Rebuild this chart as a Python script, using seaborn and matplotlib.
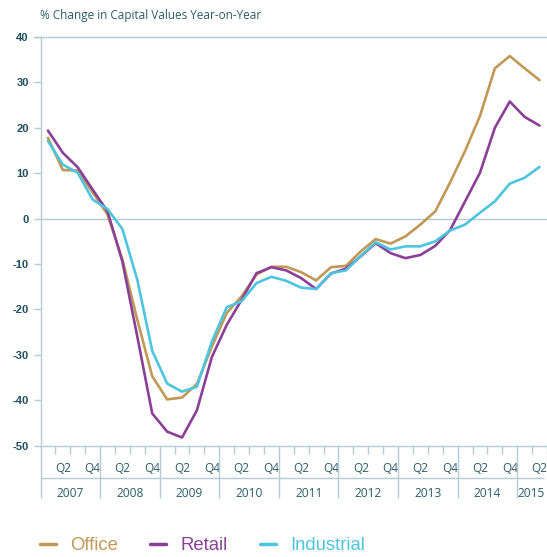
import numpy as np
import pandas as pd
import matplotlib
matplotlib.use("Agg")
import matplotlib.pyplot as plt
import seaborn as sns

years = ["2007", "2008", "2009", "2010", "2011", "2012", "2013", "2014", "2015"]
quarter_labels = ["Q1", "Q2", "Q3", "Q4"]

office = [17.8, 10.7, 10.6, 5.8, 0.9, -9.0, -22.3, -34.7, -39.8, -39.4, -36.4, -28.2,
          -20.8, -17.1, -12.3, -10.6, -10.6, -11.8, -13.6, -10.7, -10.4, -7.2, -4.5, -5.5,
          -3.9, -1.3, 1.6, 8.0, 14.9, 22.6, 33.1, 35.8, 33.1, 30.5]
retail = [19.4, 14.5, 11.3, 6.4, 1.6, -9.5, -26.0, -42.9, -46.9, -48.2, -42.2, -30.5,
          -23.4, -17.9, -12.0, -10.7, -11.4, -13.1, -15.5, -12.1, -11.0, -8.3, -5.4, -7.6,
          -8.7, -8.0, -6.0, -2.5, 3.8, 10.1, 20.0, 25.8, 22.4, 20.5]
industrial = [17.1, 11.9, 10.1, 4.2, 2.1, -2.3, -13.5, -29.1, -36.3, -38.1, -37.0, -27.1,
              -19.5, -18.2, -14.2, -12.8, -13.7, -15.2, -15.5, -12.0, -11.4, -8.2, -5.2, -6.8,
              -6.1, -6.1, -5.0, -2.6, -1.3, 1.3, 3.8, 7.7, 9.0, 11.4]

series = {"Office": office, "Retail": retail, "Industrial": industrial}
colors = {"Office": "#c19855", "Retail": "#8b3f97", "Industrial": "#4dc5de"}

n = len(office)
qidx = np.arange(n)
rows = []
for name, vals in series.items():
    for i, v in zip(qidx, vals):
        rows.append({"q": i, "value": v, "sector": name})
df = pd.DataFrame(rows)

sns.set_style("white")
plt.rcParams["font.family"] = ["Open Sans", "DejaVu Sans"]

grid_col = "#b4cbd2"
text_col = "#2b5c68"
tick_col = "#1e4f5b"

fig = plt.figure(figsize=(5.47, 5.57), dpi=100)
ax = fig.add_axes([40.5 / 547, 1 - 445.7 / 557, 1 - 40.5 / 547, (445.7 - 37) / 557])

sns.lineplot(data=df, x="q", y="value", hue="sector", palette=colors,
             linewidth=1.9, ax=ax, legend=True)

ax.set_xlim(-0.5, 33.33)
ax.set_ylim(-50, 40)

for s in ["top", "right"]:
    ax.spines[s].set_visible(False)
ax.spines["left"].set_color(grid_col)
ax.spines["bottom"].set_color(grid_col)
ax.spines["left"].set_linewidth(1)
ax.spines["bottom"].set_linewidth(1)

ax.axhline(0, color=grid_col, lw=1, zorder=0)
ax.axhline(40, xmin=-7 / 506.5, color=grid_col, lw=1, zorder=0, clip_on=False)

# y axis
ax.set_yticks(np.arange(-50, 41, 10))
ax.set_yticklabels([str(v) for v in range(-50, 41, 10)],
                   fontweight="bold", family=["Liberation Sans"], fontsize=8, color=tick_col)
ax.tick_params(axis="y", left=True, length=5, width=1, color=grid_col, pad=3.5)

# x axis: Q labels and quarter ticks
qpos = [i for i in qidx if i % 4 in (1, 3)]
ax.set_xticks(qpos)
ax.set_xticklabels([quarter_labels[i % 4] for i in qpos], fontsize=8.6, color=text_col)
ax.tick_params(axis="x", which="major", bottom=True, length=0, pad=12)
minor = [b - 0.5 for b in range(1, 35) if b % 4 != 0]
ax.set_xticks(minor, minor=True)
ax.tick_params(axis="x", which="minor", bottom=True, length=6, width=1, color=grid_col)

ax.set_xlabel("")
ax.set_ylabel("")

trans = ax.get_xaxis_transform()
axh = 445.7 - 37
ybot = -(497.7 - 445.7) / axh
ysep = -(478.3 - 445.7) / axh
ymid = -(493.3 - 445.7) / axh
ax.vlines([b - 0.5 for b in range(0, 35, 4)], ybot, 0, transform=trans,
          color=grid_col, lw=1, clip_on=False)
ax.hlines(ysep, -0.5, 33.33, transform=trans, color=grid_col, lw=1, clip_on=False)

for k, yr in enumerate(years):
    start = 4 * k - 0.5
    end = min(start + 4, 33.33)
    ax.text((start + end) / 2, ymid, yr, transform=trans, ha="center", va="center",
            fontsize=8.6, color=text_col, clip_on=False)

fig.text(40 / 547, 1 - 15 / 557, "% Change in Capital Values Year-on-Year",
         ha="left", va="center", fontsize=8.5, color=text_col)

handles, labels = ax.get_legend_handles_labels()
ax.get_legend().remove()
leg = fig.legend(handles, labels, loc="center left",
                 bbox_to_anchor=(40 / 547, 1 - 545.7 / 557), ncol=3, frameon=False,
                 prop={"family": "Liberation Sans", "size": 13.3},
                 handlelength=0.87, handletextpad=0.76, columnspacing=1.75,
                 borderpad=0, borderaxespad=0)
for t, h in zip(leg.get_texts(), leg.legend_handles):
    t.set_color(colors[t.get_text()])
    h.set_linewidth(2.5)

fig.savefig("out.png", dpi=100)
